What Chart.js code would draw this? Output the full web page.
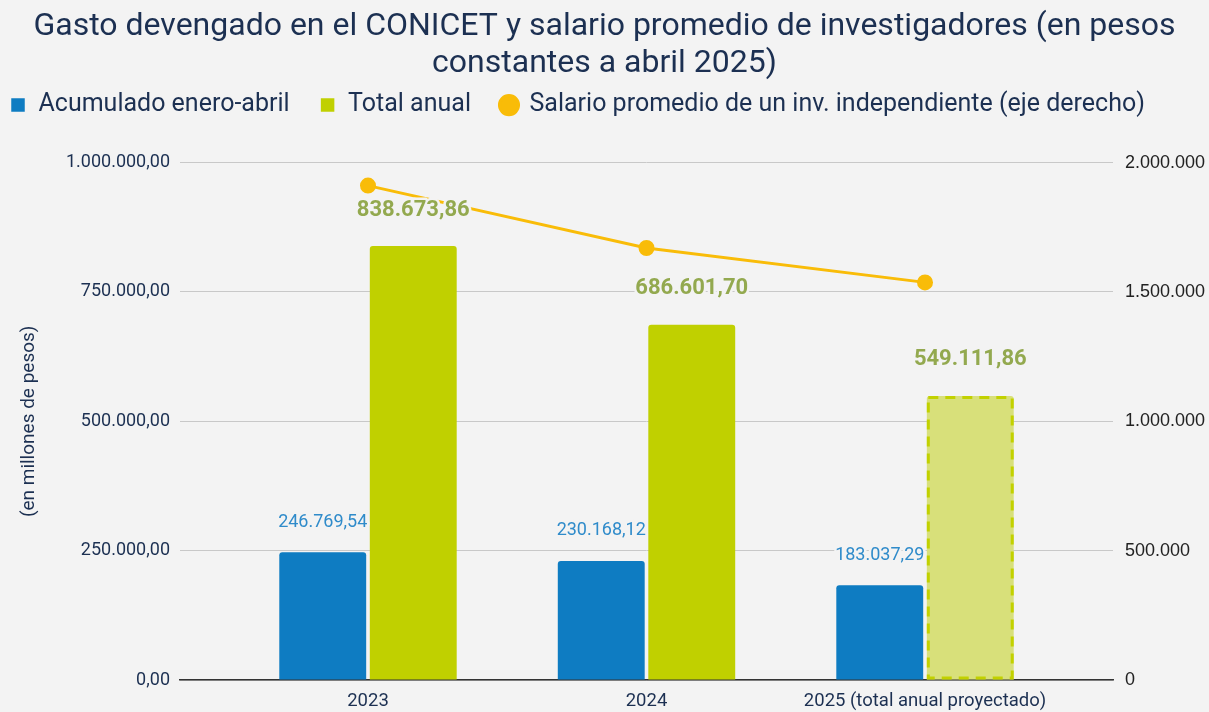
<!DOCTYPE html>
<html>
<head>
<meta charset="utf-8">
<script src="https://cdn.jsdelivr.net/npm/chart.js@4.4.1/dist/chart.umd.min.js"></script>
<style>
  body { margin: 0; background: #f3f3f3; }
  #wrap { width: 1209px; height: 712px; }
</style>
</head>
<body>
<div id="wrap"><canvas id="conicet-Chart"></canvas></div>
<script>
const categories = ["2023", "2024", "2025 (total anual proyectado)"];
const acumulado = [246769.54, 230168.12, 183037.29];
const totalAnual = [838673.86, 686601.7, 549111.86];
const salario = [1911000, 1670000, 1537000];
const leftTicks = [0, 250000, 500000, 750000, 1000000];
const rightTicks = [0, 500000, 1000000, 1500000, 2000000];

const navy = "#1c3052";

function fmt(v, dec) {
  const parts = v.toFixed(dec).split(".");
  parts[0] = parts[0].replace(/\B(?=(\d{3})+(?!\d))/g, ".");
  return parts.join(",");
}

function points(values) {
  return values.map((v, i) => ({ x: i, y: v }));
}

// extra room under the legend, and legend pulled to the left edge
const legendMargin = {
  id: "legendMargin",
  beforeInit(chart) {
    const fit = chart.legend.fit;
    chart.legend.fit = function () {
      fit.bind(chart.legend)();
      this.height += 35;
    };
  },
  afterLayout(chart) {
    chart.legend.left -= 20;
  }
};

const valueLabels = {
  id: "valueLabels",
  afterDatasetsDraw(chart) {
    const ctx = chart.ctx;
    ctx.save();

    // projected bar gets a dashed outline
    const proj = chart.getDatasetMeta(1).data[2];
    if (proj) {
      const p = proj.getProps(["x", "y", "base", "width"], true);
      ctx.setLineDash([10, 7]);
      ctx.lineWidth = 3;
      ctx.strokeStyle = "#c2d100";
      ctx.strokeRect(p.x - p.width / 2 + 1.5, p.y + 1.5, p.width - 3, p.base - p.y - 3);
      ctx.setLineDash([]);
    }

    ctx.textAlign = "center";
    ctx.textBaseline = "middle";
    ctx.lineJoin = "round";
    ctx.strokeStyle = "#f3f3f3";
    ctx.lineWidth = 5;

    chart.getDatasetMeta(0).data.forEach((bar, i) => {
      const p = bar.getProps(["x", "y"], true);
      ctx.font = "18px Roboto";
      ctx.fillStyle = "#2f8bca";
      const t = fmt(acumulado[i], 2);
      ctx.strokeText(t, p.x, p.y - 30);
      ctx.fillText(t, p.x, p.y - 30);
    });

    chart.getDatasetMeta(1).data.forEach((bar, i) => {
      const p = bar.getProps(["x", "y"], true);
      ctx.font = "bold 22px Roboto";
      ctx.fillStyle = "#93a94f";
      const t = fmt(totalAnual[i], 2);
      ctx.strokeText(t, p.x, p.y - 36);
      ctx.fillText(t, p.x, p.y - 36);
    });

    ctx.restore();
  }
};

document.addEventListener("DOMContentLoaded", () => {
  const ctx = document.getElementById("conicet-Chart");
  if (!ctx) {
    console.error("Canvas element not found");
    return;
  }
  new Chart(ctx, {
    type: "bar",
    data: {
      datasets: [
        {
          label: "Acumulado enero-abril",
          data: points(acumulado),
          backgroundColor: "#0e7cc2",
          borderWidth: 0,
          borderRadius: 3,
          pointStyle: "rect",
          order: 1,
        },
        {
          label: "Total anual",
          data: points(totalAnual),
          backgroundColor: ["#c0d000", "#c0d000", "#d8e07a"],
          borderWidth: 0,
          borderRadius: 3,
          pointStyle: "rect",
          order: 1,
        },
        {
          type: "line",
          label: "Salario promedio de un inv. independiente (eje derecho)",
          data: points(salario),
          yAxisID: "y1",
          borderColor: "#f9bc08",
          backgroundColor: "#f9bc08",
          borderWidth: 3,
          pointRadius: 6.5,
          pointHoverRadius: 6.5,
          pointStyle: "circle",
          order: 0,
        },
      ],
    },
    options: {
      responsive: true,
      maintainAspectRatio: false,
      animation: false,
      categoryPercentage: 0.65,
      barPercentage: 0.96,
      layout: { padding: { left: 0, right: 0, top: 0, bottom: 0 } },
      plugins: {
        title: {
          display: true,
          text: [
            "Gasto devengado en el CONICET y salario promedio de investigadores (en pesos",
            "constantes a abril 2025)",
          ],
          color: navy,
          font: { family: "Roboto", size: 32, weight: "normal", lineHeight: 1.15 },
          padding: { top: 9, bottom: -20 },
        },
        legend: {
          position: "top",
          align: "start",
          labels: {
            usePointStyle: true,
            boxWidth: 16,
            boxHeight: 13.5,
            color: navy,
            font: { family: "Roboto", size: 25 },
            padding: 30,
            sort: (a, b) => a.datasetIndex - b.datasetIndex,
          },
        },
        tooltip: { enabled: false },
      },
      scales: {
        x: {
          type: "linear",
          offset: false,
          min: -0.675,
          max: 2.675,
          afterBuildTicks: (s) => {
            s.ticks = categories.map((c, i) => ({ value: i }));
          },
          afterFit: (s) => {
            s.height = 32;
          },
          grid: { display: false, drawTicks: false },
          border: { display: true, color: "#333333", width: 1.5 },
          ticks: {
            autoSkip: false,
            maxRotation: 0,
            padding: 10,
            color: navy,
            font: { family: "Roboto", size: 18.5 },
            callback: (v) => categories[v],
          },
        },
        y: {
          position: "left",
          min: 0,
          max: 1000000,
          afterBuildTicks: (s) => {
            s.ticks = leftTicks.map((v) => ({ value: v }));
          },
          afterFit: (s) => {
            s.width = 180;
          },
          grid: { color: "#c8c8c8", lineWidth: 1, drawTicks: false },
          border: { display: false },
          title: {
            display: true,
            text: "(en millones de pesos)",
            color: navy,
            font: { family: "Roboto", size: 19 },
            padding: { top: 18, bottom: 0 },
          },
          ticks: {
            padding: 10,
            color: navy,
            font: { family: "Roboto", size: 18 },
            callback: (v) => fmt(v, 2),
          },
        },
        y1: {
          position: "right",
          min: 0,
          max: 2000000,
          afterBuildTicks: (s) => {
            s.ticks = rightTicks.map((v) => ({ value: v }));
          },
          afterFit: (s) => {
            s.width = 96;
          },
          grid: { display: false, drawTicks: false },
          border: { display: false },
          ticks: {
            padding: 12,
            color: "#222222",
            font: { family: "Liberation Sans", size: 18 },
            callback: (v) => fmt(v, 0),
          },
        },
      },
    },
    plugins: [legendMargin, valueLabels],
  });
});
</script>
</body>
</html>
